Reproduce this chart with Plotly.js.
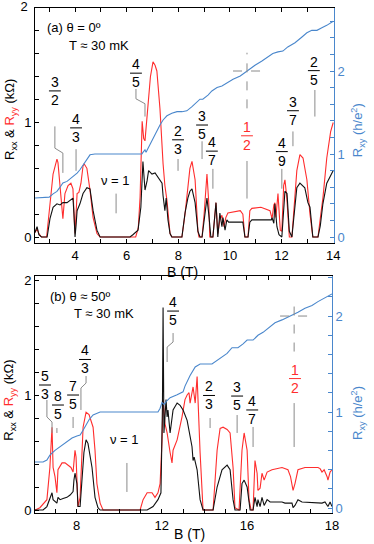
<!DOCTYPE html>
<html>
<head>
<meta charset="utf-8">
<script src="https://cdn.plot.ly/plotly-3.0.1.min.js"></script>
<style>
  html, body { margin: 0; padding: 0; background: #fff; }
  #plot { width: 374px; height: 544px; }
</style>
</head>
<body>
<div id="plot"></div>
<script>
// ---- panel (a): theta = 0, [B (T), R (kOhm)] ----
var rxxA = [[2.45,0.04],[2.53,0.09],[2.6,0.02],[2.7,0],[2.92,0],[3.03,0.16],[3.15,0.26],[3.3,0.29],[3.42,0.28],[3.53,0.3],[3.69,0.3],[3.81,0.32],[3.92,0.34],[3.96,0.2],[4.0,0],[4.04,0.1],[4.08,0.23],[4.19,0.29],[4.31,0.38],[4.46,0.43],[4.58,0.42],[4.7,0.23],[4.85,0.06],[4.97,0],[6.13,0],[6.24,0.02],[6.44,0.06],[6.55,0.26],[6.63,0.66],[6.71,0.41],[6.79,0.49],[6.85,0.58],[6.98,0.55],[7.1,0.56],[7.21,0.52],[7.37,0.47],[7.41,0.36],[7.48,0.23],[7.53,0.34],[7.6,0.15],[7.68,0.03],[7.75,0],[8.14,0],[8.26,0.21],[8.37,0.34],[8.45,0.4],[8.53,0.42],[8.65,0.3],[8.76,0.05],[8.84,0],[8.92,0],[9.0,0.15],[9.11,0.34],[9.18,0.2],[9.26,0],[9.34,0],[9.46,0.3],[9.53,0],[9.61,0.21],[9.69,0.09],[9.73,0.17],[9.81,0.06],[9.88,0.15],[9.95,0.13],[10.2,0.13],[10.5,0.13],[10.55,0.05],[10.58,0],[10.7,0],[10.77,0.13],[10.85,0.15],[11.3,0.15],[11.6,0.15],[11.63,0.17],[11.7,0.12],[11.74,0.29],[11.82,0.09],[11.9,0.02],[12.01,0],[12.1,0.3],[12.13,0.4],[12.21,0.38],[12.3,0.05],[12.4,0],[12.5,0.2],[12.59,0.43],[12.71,0.47],[12.9,0.43],[13.02,0.3],[13.1,0.26],[13.21,0],[13.41,0],[13.5,0.1],[13.6,0.29],[13.75,0.47],[13.95,0.56],[14.0,0.58]];
var ryyA = [[2.45,0.04],[2.53,0.07],[2.6,0.03],[2.7,0],[2.9,0],[3.03,0.26],[3.15,0.55],[3.3,0.68],[3.34,0.65],[3.46,0.34],[3.53,0.16],[3.61,0.38],[3.73,0.45],[3.84,0.47],[3.92,0.42],[3.97,0.15],[4.0,0.03],[4.04,0.2],[4.08,0.38],[4.15,0.39],[4.23,0.47],[4.31,0.62],[4.35,0.64],[4.46,0.6],[4.58,0.41],[4.7,0.17],[4.85,0.03],[4.97,0],[6.35,0],[6.45,0.08],[6.52,0.35],[6.6,1.01],[6.66,0.86],[6.71,0.84],[6.82,1.12],[6.92,1.4],[7.02,1.53],[7.1,1.5],[7.17,1.45],[7.29,1.12],[7.41,0.64],[7.48,0.45],[7.56,0.32],[7.68,0.03],[7.75,0],[8.14,0],[8.26,0.2],[8.33,0.35],[8.45,0.6],[8.53,0.66],[8.65,0.5],[8.76,0.05],[8.8,0],[8.92,0],[9.0,0.2],[9.11,0.55],[9.18,0.3],[9.22,0],[9.34,0],[9.46,0.3],[9.53,0.03],[9.61,0.15],[9.69,0.19],[9.77,0.09],[9.84,0.17],[9.92,0.21],[10.1,0.22],[10.4,0.23],[10.5,0.2],[10.58,0],[10.7,0],[10.77,0.23],[10.85,0.25],[11.2,0.26],[11.55,0.23],[11.63,0.16],[11.7,0.28],[11.74,0.3],[11.78,0.17],[11.86,0.38],[11.95,0.06],[12.01,0.05],[12.08,0.45],[12.13,0.5],[12.2,0.35],[12.3,0],[12.4,0],[12.52,0.4],[12.59,0.58],[12.71,0.72],[12.83,0.69],[12.98,0.5],[13.1,0.2],[13.21,0],[13.41,0],[13.52,0.2],[13.6,0.34],[13.75,0.69],[13.9,0.92],[14.0,1.0]];
// Rxy in h/e^2
var rxyA = [[2.45,0.47],[3.0,0.48],[3.15,0.52],[3.3,0.55],[3.42,0.6],[3.53,0.65],[3.69,0.67],[3.81,0.7],[3.92,0.73],[4.0,0.75],[4.08,0.77],[4.19,0.81],[4.31,0.87],[4.46,0.93],[4.58,0.99],[4.77,1.0],[6.59,1.0],[6.63,1.02],[6.71,1.05],[6.75,1.02],[6.9,1.11],[7.02,1.2],[7.17,1.29],[7.29,1.35],[7.41,1.41],[7.56,1.46],[7.75,1.49],[7.95,1.51],[8.14,1.51],[8.33,1.52],[8.53,1.57],[8.72,1.63],[8.84,1.66],[8.95,1.66],[9.15,1.71],[9.3,1.76],[9.5,1.8],[9.69,1.82],[9.88,1.86],[10.12,1.9],[10.4,1.94],[10.66,2.0],[10.97,2.07],[11.24,2.12],[11.47,2.17],[11.66,2.21],[11.86,2.23],[12.05,2.24],[12.24,2.29],[12.52,2.34],[12.79,2.41],[12.98,2.46],[13.17,2.49],[13.37,2.49],[13.56,2.52],[13.75,2.55],[14.0,2.6]];

// ---- panel (b): theta = 50 deg, axis units (last tick printed as "18") ----
var rxxB = [[6.04,0],[6.42,0],[6.6,0.03],[6.74,0.11],[6.84,0.15],[6.89,0.09],[6.98,0.07],[7.07,0.06],[7.12,0.11],[7.22,0.09],[7.36,0.1],[7.54,0.11],[7.69,0.13],[7.83,0.16],[7.87,0.26],[7.92,0.32],[8.01,0.23],[8.06,0.03],[8.16,0.03],[8.25,0.23],[8.34,0.5],[8.44,0.61],[8.53,0.58],[8.72,0.37],[8.86,0.11],[9.0,0.02],[9.1,0],[11.31,0],[11.59,0.03],[11.82,0.09],[11.96,0.15],[12.03,0.9],[12.06,1.76],[12.1,0.67],[12.15,0.8],[12.2,0.96],[12.25,0.81],[12.29,0.87],[12.39,0.67],[12.48,0.78],[12.53,0.87],[12.72,0.93],[12.86,0.91],[13.0,0.87],[13.19,0.78],[13.42,0.55],[13.47,0.43],[13.52,0.46],[13.66,0.35],[13.8,0.09],[13.94,0],[14.41,0],[14.6,0.2],[14.83,0.35],[15.07,0.39],[15.21,0.35],[15.35,0.09],[15.44,0],[15.68,0],[15.77,0.23],[15.87,0.26],[16.01,0.2],[16.15,0],[16.29,0],[16.38,0.11],[16.48,0.03],[16.52,0.09],[16.62,0.03],[16.71,0.11],[16.81,0.04],[16.95,0.09],[17.09,0.07],[17.65,0.07],[17.79,0.06],[18.12,0.06],[18.17,0.02],[18.26,0.04],[18.4,0.09],[18.59,0.07],[19.53,0.06],[19.67,0.07],[19.81,0.03],[19.91,0.07],[20.0,0.03]];
var ryyB = [[6.04,0],[6.27,0.02],[6.6,0.09],[6.74,0.37],[6.84,0.72],[6.89,0.37],[6.98,0.29],[7.07,0.15],[7.12,0.35],[7.31,0.41],[7.45,0.41],[7.59,0.39],[7.73,0.37],[7.83,0.33],[7.87,0.41],[7.92,0.52],[7.97,0.46],[8.01,0.2],[8.06,0.03],[8.16,0.11],[8.25,0.43],[8.3,0.72],[8.44,0.85],[8.58,0.83],[8.77,0.72],[8.86,0.52],[8.95,0.23],[9.1,0.06],[9.24,0],[10.98,0],[11.12,0.09],[11.31,0.15],[11.54,0.15],[11.68,0.11],[11.82,0.15],[11.92,0.23],[12.01,0.6],[12.06,0.96],[12.15,0.75],[12.25,0.67],[12.39,0.5],[12.48,0.41],[12.53,0.52],[12.72,0.61],[12.95,0.81],[13.09,0.96],[13.19,1.0],[13.28,1.02],[13.33,0.93],[13.47,1.07],[13.57,0.93],[13.66,1.16],[13.8,0.5],[13.94,0],[14.41,0],[14.6,0.52],[14.74,0.71],[14.88,0.72],[15.07,0.7],[15.21,0.67],[15.35,0.37],[15.44,0.02],[15.63,0],[15.77,0.52],[15.87,0.67],[16.01,0.52],[16.1,0.09],[16.2,0],[16.29,0],[16.38,0.43],[16.48,0.32],[16.52,0.17],[16.62,0.19],[16.71,0.32],[16.81,0.26],[16.95,0.33],[17.18,0.35],[17.65,0.37],[17.93,0.35],[18.05,0.29],[18.17,0.17],[18.26,0.23],[18.4,0.35],[18.73,0.37],[19.34,0.37],[19.44,0.36],[19.53,0.33],[19.63,0.35],[19.77,0.29],[19.81,0.26],[19.91,0.33],[20.0,0.35]];
var rxyB = [[6.04,0.48],[6.42,0.48],[6.6,0.5],[6.74,0.55],[6.98,0.6],[7.22,0.64],[7.54,0.69],[7.78,0.73],[8.01,0.75],[8.16,0.76],[8.3,0.81],[8.44,0.86],[8.58,0.92],[8.77,0.97],[8.95,0.99],[9.1,1.0],[11.82,1.0],[11.92,1.04],[12.01,1.1],[12.1,1.08],[12.25,1.12],[12.39,1.15],[12.72,1.18],[13.0,1.21],[13.09,1.27],[13.33,1.38],[13.57,1.47],[13.8,1.5],[14.36,1.5],[14.6,1.54],[14.83,1.57],[15.07,1.61],[15.3,1.67],[15.58,1.67],[15.82,1.71],[16.01,1.75],[16.29,1.75],[16.52,1.8],[16.76,1.83],[17.0,1.87],[17.32,1.93],[17.65,1.96],[17.93,1.99],[18.17,2.01],[18.4,2.04],[18.73,2.08],[19.06,2.11],[19.34,2.15],[19.67,2.19],[20.0,2.23]];

// filling factor labels: numerator, denominator, x, y of the bar, leader polyline
var fracNumA = ['3','4','4','2','3','4','1','4','3','2'];
var fracDenA = ['2','3','5','3','5','7','2','9','7','5'];
var fracXA   = [3.22, 4.04, 6.36, 7.99, 8.92, 9.30, 10.66, 12.01, 12.44, 13.25];
var fracYA   = [1.276, 0.953, 1.431, 0.849, 0.978, 0.75, 0.884, 0.746, 1.103, 1.453];
var leadA = [
  [[3.22,0.966],[3.22,0.776],[3.53,0.733],[3.53,0.56]],
  [[4.04,0.767],[4.04,0.578]],
  [[6.36,1.293],[6.36,1.207],[6.71,1.164],[6.71,1.052]],
  [[7.99,0.681],[7.99,0.578]],
  [[8.92,0.836],[8.92,0.681]],
  [[9.34,0.595],[9.34,0.422]],
  [[10.66,0.664],[10.66,0.336]],
  [[12.01,0.595],[12.01,0.422]],
  [[12.44,0.922],[12.44,0.793]],
  [[13.29,1.284],[13.29,1.052]],
  [[5.59,0.379],[5.59,0.207]]
];
var fracNumB = ['5','8','7','4','4','2','3','4','1'];
var fracDenB = ['3','5','5','3','5','3','5','7','2'];
var fracXB   = [6.51, 7.12, 7.83, 8.39, 12.53, 14.22, 15.54, 16.25, 18.26];
var fracYB   = [1.087, 0.913, 1.0, 1.309, 1.73, 0.996, 0.991, 0.87, 1.143];
var leadB = [
  [[6.6,0.957],[6.6,0.809],[6.84,0.765],[6.84,0.67]],
  [[7.07,0.713],[7.07,0.67]],
  [[7.83,0.809],[7.83,0.713]],
  [[8.44,1.165],[8.44,1.104],[8.2,1.061],[8.2,0.87]],
  [[12.53,1.539],[12.53,1.461],[12.25,1.417],[12.25,1.287]],
  [[14.27,0.8],[14.27,0.713]],
  [[15.54,0.826],[15.54,0.67]],
  [[16.29,0.722],[16.29,0.548]],
  [[18.22,0.93],[18.22,0.548]],
  [[10.36,0.409],[10.36,0.157]]
];

// tick labels
var xLabelsA = [4, 6, 8, 10, 12, 14];
var xLabelsB = [8, 12, 16, 20];
var xTextB = ['8', '12', '16', '18'];
var yLabels = [0, 1, 2];
var yLabelsTopA = [0, 1];   // the top "2" of panel (a) is drawn as a text trace below

var RED = '#ff2d2d', BLUE = '#4a87cc', GRAY = '#8a8a8a';
var FONT = '"Liberation Sans", Arial, sans-serif';

function col(list, i) { return list.map(function(p){ return p[i]; }); }
function line(list, color, xa, ya) {
  return {type:'scatter', mode:'lines', x: col(list,0), y: col(list,1), xaxis: xa, yaxis: ya,
          line:{color: color, width: 1.1}, hoverinfo:'skip', showlegend:false};
}

var data = [
  line(ryyA, RED, 'x', 'y'), line(rxxA, '#111', 'x', 'y'), line(rxyA, BLUE, 'x', 'y2'),
  line(ryyB, RED, 'x2', 'y3'), line(rxxB, '#111', 'x2', 'y3'), line(rxyB, BLUE, 'x2', 'y4'),
  // left-scale label "2" at the top corner of panel (a)
  {type:'scatter', mode:'text', x:[2.45], y:[2], text:['2  '], textposition:'middle left',
   textfont:{family:FONT, size:13, color:'#000'}, cliponaxis:false, xaxis:'x', yaxis:'y',
   hoverinfo:'skip', showlegend:false}
];

var shapes = [], annotations = [];
function addFracs(nums, dens, xs, ys, leads, xr, yr, half) {
  nums.forEach(function(n, i) {
    var c = (n === '1' && dens[i] === '2') ? RED : '#000';
    annotations.push({xref:xr, yref:yr, x:xs[i], y:ys[i], text: n + '<br>' + dens[i], showarrow:false,
      xanchor:'center', yanchor:'middle', font:{family:FONT, size:14, color:c}});
    shapes.push({type:'line', xref:xr, yref:yr, x0:xs[i]-half, x1:xs[i]+half, y0:ys[i], y1:ys[i],
      line:{color:c, width:1}});
  });
  leads.forEach(function(pts) {
    var path = pts.map(function(p, k){ return (k ? 'L' : 'M') + p[0] + ',' + p[1]; }).join(' ');
    shapes.push({type:'path', xref:xr, yref:yr, path:path, line:{color:GRAY, width:1}});
  });
}
addFracs(fracNumA, fracDenA, fracXA, fracYA, leadA, 'x', 'y', 0.23);
addFracs(fracNumB, fracDenB, fracXB, fracYB, leadB, 'x2', 'y3', 0.28);

// nu = 1/2 crosshairs on the Rxy scale
shapes.push({type:'line', xref:'x', yref:'y2', x0:10.66, x1:10.66, y0:1.55, y1:2.22, line:{color:GRAY, width:1, dash:'dash'}});
shapes.push({type:'line', xref:'x', yref:'y2', x0:10.12, x1:11.24, y0:2.0, y1:2.0, line:{color:GRAY, width:1, dash:'dash'}});
shapes.push({type:'line', xref:'x2', yref:'y4', x0:18.22, x1:18.22, y0:1.63, y1:2.19, line:{color:GRAY, width:1, dash:'dash'}});
shapes.push({type:'line', xref:'x2', yref:'y4', x0:17.56, x1:18.87, y0:2.0, y1:2.0, line:{color:GRAY, width:1, dash:'dash'}});

function txt(xr, yr, x, y, s, anchor, size, extra) {
  var a = {xref:xr, yref:yr, x:x, y:y, text:s, showarrow:false, xanchor:anchor || 'left', yanchor:'middle',
           font:{family:FONT, size:size || 13, color:'#000'}};
  for (var k in extra) a[k] = extra[k];
  annotations.push(a);
}
txt('x', 'y', 2.84, 1.83, '(a) θ = 0º');
txt('x', 'y', 3.69, 1.67, 'T ≈ 30 mK');
txt('x', 'y', 5.55, 0.49, 'ν = 1', 'center');
txt('x2', 'y3', 6.65, 1.86, '(b) θ ≈ 50º');
txt('x2', 'y3', 7.78, 1.71, 'T ≈ 30 mK');
txt('x2', 'y3', 10.23, 0.609, 'ν = 1', 'center');

var leftTitle = 'R<sub>xx</sub> & <span style="color:' + RED + '">R<sub>yy</sub></span> (kΩ)';
var rightTitle = 'R<sub>xy</sub> (h/e<sup>2</sup>)';
txt('paper', 'paper', -0.084, 0.780, leftTitle, 'center', 13, {textangle:-90});
txt('paper', 'paper', -0.084, 0.224, leftTitle, 'center', 13, {textangle:-90});
txt('paper', 'paper', 1.08, 0.758, rightTitle, 'center', 13, {textangle:-90, font:{family:FONT, size:13, color:BLUE}});
txt('paper', 'paper', 1.08, 0.198, rightTitle, 'center', 13, {textangle:-90, font:{family:FONT, size:13, color:BLUE}});
txt('paper', 'paper', 0.492, 0.477, 'B (T)', 'center', 14);
txt('paper', 'paper', 0.518, -0.042, 'B (T)', 'center', 14);

function axis(extra) {
  var a = {showgrid:false, zeroline:false, showline:true, linecolor:'#000', linewidth:1,
           ticks:'inside', ticklen:4, tickwidth:1, tickcolor:'#000', ticklabeloverflow:'allow',
           automargin:false, tickfont:{family:FONT, size:13, color:'#000'}};
  for (var k in extra) a[k] = extra[k];
  return a;
}
function minor(dtick, color) {
  return {ticks:'inside', ticklen:4, tickwidth:1, tickcolor:color || '#000', dtick:dtick, tick0:0, showgrid:false};
}

var blueFont = {family:FONT, size:13, color:BLUE};

var layout = {
  width: 374, height: 544,
  margin: {l:35, r:40, t:8, b:31},
  paper_bgcolor:'#fff', plot_bgcolor:'#fff',
  showlegend:false,
  xaxis: axis({domain:[0,1], range:[2.45,14.03], anchor:'y', mirror:'ticks',
               tickmode:'array', tickvals:xLabelsA, minor:minor(1)}),
  yaxis: axis({domain:[0.5347,1], range:[-0.052,2.0], anchor:'x',
               tickmode:'array', tickvals:yLabelsTopA, minor:minor(0.2)}),
  yaxis2: axis({overlaying:'y', side:'right', anchor:'x', range:[-0.072,2.759],
                linecolor:BLUE, tickcolor:BLUE, tickfont:blueFont,
                tickmode:'array', tickvals:yLabels, minor:minor(0.2, BLUE)}),
  xaxis2: axis({domain:[0,0.9933], range:[6.04,20.0], anchor:'y3', mirror:'ticks',
                tickmode:'array', tickvals:xLabelsB, ticktext:xTextB, minor:minor(1)}),
  yaxis3: axis({domain:[0,0.4693], range:[-0.026,2.035], anchor:'x2',
                tickmode:'array', tickvals:yLabels, minor:minor(0.2)}),
  yaxis4: axis({overlaying:'y3', side:'right', anchor:'x2', range:[-0.052,2.417],
                linecolor:BLUE, tickcolor:BLUE, tickfont:blueFont,
                tickmode:'array', tickvals:yLabels, minor:minor(0.2, BLUE)}),
  shapes: shapes,
  annotations: annotations
};

Plotly.newPlot('plot', data, layout, {displayModeBar:false, staticPlot:true});
</script>
</body>
</html>
